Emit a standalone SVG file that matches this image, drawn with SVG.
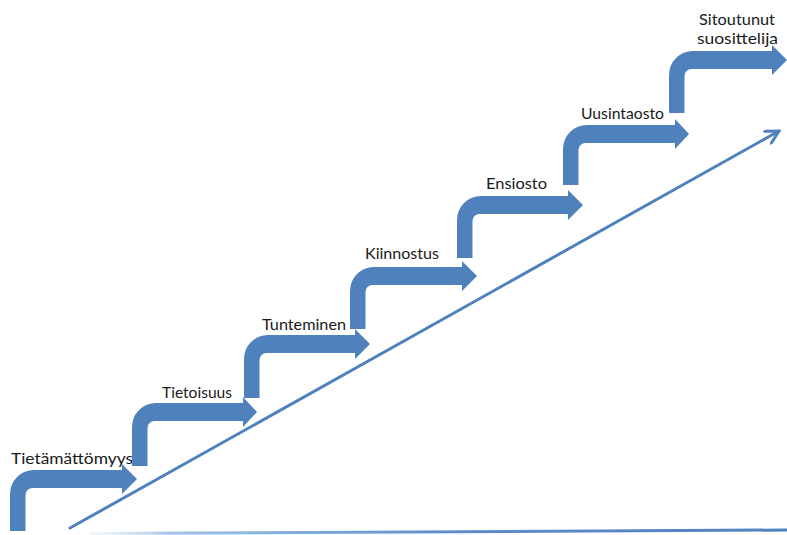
<svg xmlns="http://www.w3.org/2000/svg" width="787" height="535" viewBox="0 0 787 535">
  <defs>
    <style>
      .step { fill: #4F81BD; stroke: none; }
      .lbl { font-family: "Lato", "Liberation Sans", sans-serif; font-size: 16px; fill: #1a1a1a; }
      .conn { stroke: #4F81BD; stroke-width: 3; fill: none; stroke-linecap: round; }
    </style>
    <marker id="open" markerUnits="userSpaceOnUse" viewBox="0 0 16 16" refX="14" refY="8" markerWidth="16" markerHeight="16" orient="auto">
      <path d="M1,1 L14,8 L1,15" fill="none" stroke="#4F81BD" stroke-width="3" stroke-linecap="round" stroke-linejoin="miter"/>
    </marker>
    <linearGradient id="base" gradientUnits="userSpaceOnUse" x1="90" y1="0" x2="787" y2="0">
      <stop offset="0" stop-color="#bcd6ee" stop-opacity="0.2"/>
      <stop offset="0.12" stop-color="#8fb6e0" stop-opacity="0.85"/>
      <stop offset="0.5" stop-color="#5f8fca"/>
      <stop offset="1" stop-color="#4F81BD"/>
    </linearGradient>
  </defs>
  <rect width="787" height="535" fill="#ffffff"/>

  <g id="connectors">
    <line x1="90" y1="533.5" x2="787" y2="530" stroke="url(#base)" stroke-width="3"/>
    <line class="conn" x1="70" y1="528" x2="779" y2="131" marker-end="url(#open)"/>
  </g>

  <g id="step1">
    <path class="step" d="M10,531 L10,494 A24,24 0 0 1 34,470 L122,470 L122,464 L137,479 L122,494 L122,488 L32.5,488 A7,7 0 0 0 25.5,495 L25.5,531 Z"/>
    <text class="lbl" x="11" y="464" textLength="122" lengthAdjust="spacingAndGlyphs">Tietämättömyys</text>
  </g>
  <g id="step2">
    <path class="step" d="M132,466 L132,427 A24,24 0 0 1 156,403 L243,403 L243,397 L257,412 L243,427 L243,421 L154.5,421 A7,7 0 0 0 147.5,428 L147.5,466 Z"/>
    <text class="lbl" x="162" y="398" textLength="70" lengthAdjust="spacingAndGlyphs">Tietoisuus</text>
  </g>
  <g id="step3">
    <path class="step" d="M244,398 L244,359 A24,24 0 0 1 268,335 L355,335 L355,329 L370,344 L355,359 L355,353 L266.5,353 A7,7 0 0 0 259.5,360 L259.5,398 Z"/>
    <text class="lbl" x="262" y="330" textLength="84" lengthAdjust="spacingAndGlyphs">Tunteminen</text>
  </g>
  <g id="step4">
    <path class="step" d="M350,329 L350,291 A24,24 0 0 1 374,267 L462,267 L462,261 L477,276 L462,291 L462,285 L372.5,285 A7,7 0 0 0 365.5,292 L365.5,329 Z"/>
    <text class="lbl" x="365" y="259" textLength="74" lengthAdjust="spacingAndGlyphs">Kiinnostus</text>
  </g>
  <g id="step5">
    <path class="step" d="M457,258 L457,220 A24,24 0 0 1 481,196 L568,196 L568,190 L583,205 L568,220 L568,214 L479.5,214 A7,7 0 0 0 472.5,221 L472.5,258 Z"/>
    <text class="lbl" x="486" y="189" textLength="61" lengthAdjust="spacingAndGlyphs">Ensiosto</text>
  </g>
  <g id="step6">
    <path class="step" d="M563,185 L563,149 A24,24 0 0 1 587,125 L675,125 L675,119 L689,134 L675,149 L675,143 L585.5,143 A7,7 0 0 0 578.5,150 L578.5,185 Z"/>
    <text class="lbl" x="581" y="119" textLength="83" lengthAdjust="spacingAndGlyphs">Uusintaosto</text>
  </g>
  <g id="step7">
    <path class="step" d="M669,113 L669,75 A24,24 0 0 1 693,51 L772,51 L772,45 L787,60 L772,75 L772,69 L691.5,69 A7,7 0 0 0 684.5,76 L684.5,113 Z"/>
    <text class="lbl" x="699" y="25" textLength="76" lengthAdjust="spacingAndGlyphs">Sitoutunut</text>
    <text class="lbl" x="697" y="44" textLength="81" lengthAdjust="spacingAndGlyphs">suosittelija</text>
  </g>
</svg>
